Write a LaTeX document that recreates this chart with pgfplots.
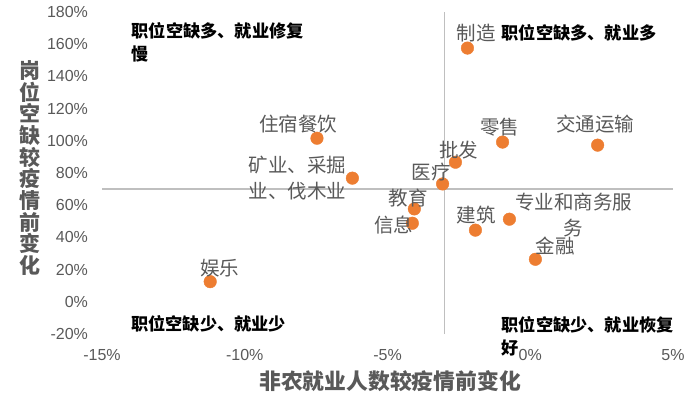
\documentclass[border=0pt]{standalone}
\usepackage{fontspec}
\usepackage{pgfplots}
\pgfplotsset{compat=1.18}
\setmainfont{Liberation Sans}
\newfontfamily\cjk{Noto Sans CJK SC}
\definecolor{dot}{HTML}{ED7D31}
\definecolor{txt}{HTML}{595959}
\definecolor{ln}{HTML}{BFBFBF}
\begin{document}
\begin{tikzpicture}
\begin{axis}[
  at={(102pt,63pt)}, anchor=south west,
  scale only axis, width=571pt, height=322pt,
  xmin=-15, xmax=5, ymin=-20, ymax=180,
  xtick={-15,-10,-5,0,5},
  xticklabels={-15\%,-10\%,-5\%,0\%,5\%},
  ytick={-20,0,20,40,60,80,100,120,140,160,180},
  yticklabels={-20\%,0\%,20\%,40\%,60\%,80\%,100\%,120\%,140\%,160\%,180\%},
  axis line style={draw=none},
  major tick length=0pt,
  tick label style={font=\fontsize{16}{18}\selectfont, text=txt},
  xticklabel style={yshift=-12pt},
  yticklabel style={xshift=-10.5pt},
  clip=false,
]
\addplot[ln, line width=1.5pt] coordinates {(-3,-20) (-3,180)};
\addplot[ln, line width=1.5pt] coordinates {(-15,70) (5,70)};
\addplot[only marks, mark=*, mark size=6.3pt, mark options={fill=dot, draw=dot}] coordinates {
  (-2.20,157.6)
  (-0.97,99.2)
  (2.36,97.3)
  (-2.62,86.7)
  (-3.07,73.2)
  (-7.47,101.6)
  (-6.23,76.8)
  (-4.06,57.7)
  (-4.13,48.8)
  (-1.92,44.5)
  (-0.73,51.3)
  (0.18,26.4)
  (-11.21,12.5)
};
\end{axis}
\begin{scope}[every node/.style={inner sep=0pt, text=txt, font=\cjk\fontsize{19.5}{26}\selectfont}]
\node at (476pt,364pt) {制造};
\node at (499.5pt,270pt) {零售};
\node at (595pt,273pt) {交通运输};
\node at (458.5pt,247pt) {批发};
\node at (431pt,225pt) {医疗};
\node at (298pt,273pt) {住宿餐饮};
\node[align=center] at (297.5pt,219pt) {矿业、采掘\\业、伐木业};
\node at (408pt,199pt) {教育};
\node at (393.5pt,172pt) {信息};
\node at (219.5pt,129pt) {娱乐};
\node at (476pt,182pt) {建筑};
\node[align=center] at (573.5pt,182pt) {专业和商务服\\务};
\node at (555pt,151pt) {金融};
\end{scope}
\begin{scope}[every node/.style={inner sep=0pt, anchor=west, text=black, font=\cjk\bfseries\fontsize{17.2}{20}\selectfont}]
\node at (131.5pt,366pt) {职位空缺多、就业修复};
\node at (131.5pt,343pt) {慢};
\node at (501.5pt,364pt) {职位空缺多、就业多};
\node at (131pt,73pt) {职位空缺少、就业少};
\node at (501.5pt,72pt) {职位空缺少、就业恢复};
\node at (501.5pt,49pt) {好};
\end{scope}
\node[inner sep=0pt, text=txt, font=\cjk\bfseries\fontsize{21.8}{24}\selectfont] at (390pt,16pt) {非农就业人数较疫情前变化};
\node[inner sep=0pt, text=txt, align=center, font=\cjk\bfseries\fontsize{21}{21.7}\selectfont] at (30pt,229pt) {岗\\位\\空\\缺\\较\\疫\\情\\前\\变\\化};
\pgfresetboundingbox
\useasboundingbox (0pt,0pt) rectangle (696pt,397pt);
\end{tikzpicture}
\end{document}
